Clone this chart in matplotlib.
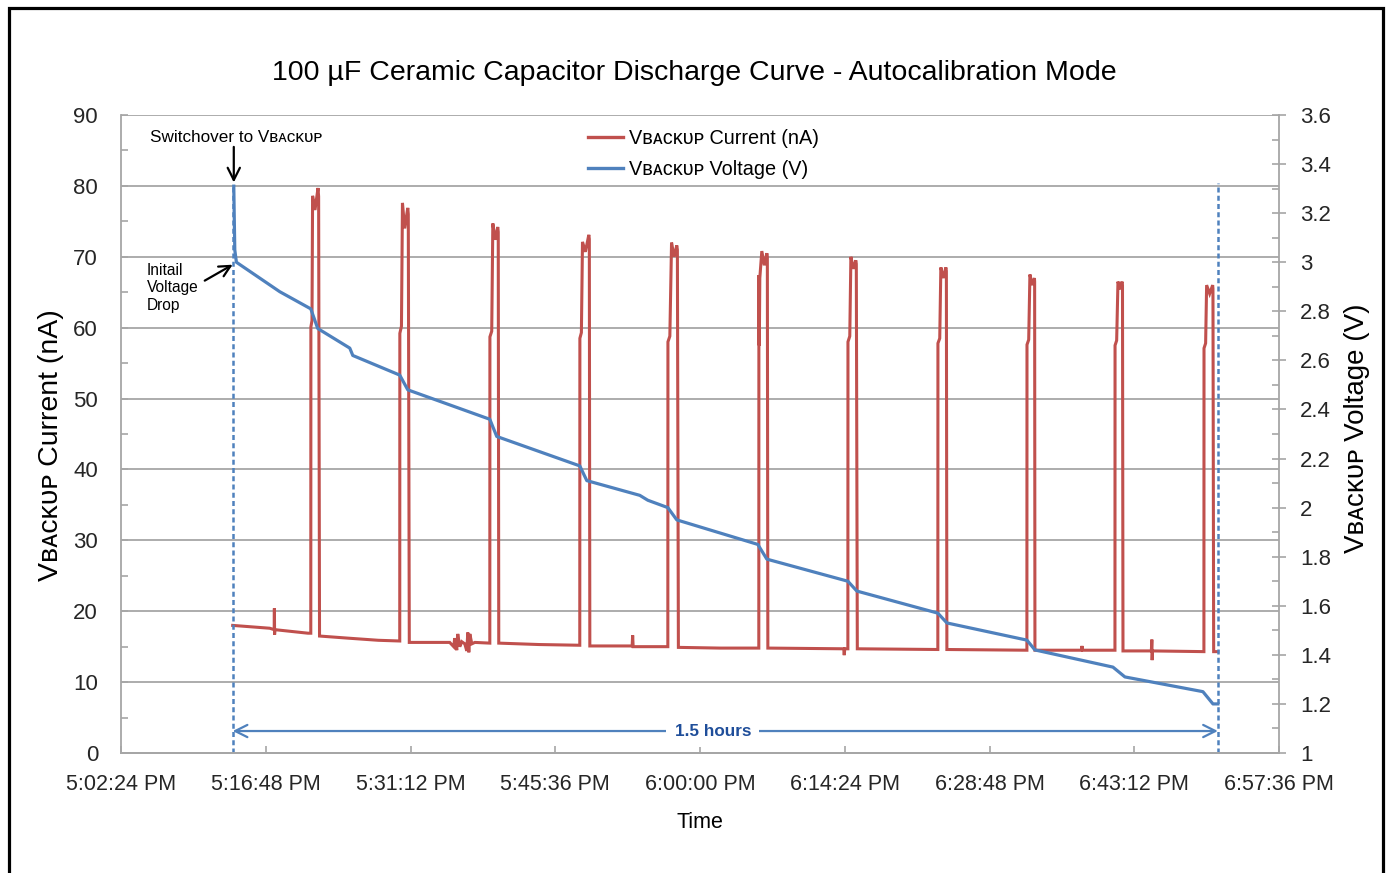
import numpy as np
import pandas as pd
import matplotlib
matplotlib.use('Agg')
import matplotlib.pyplot as plt
from matplotlib.lines import Line2D
from matplotlib.patches import Rectangle
from matplotlib.ticker import MultipleLocator, FormatStrFormatter

plt.rcParams['font.family'] = ['Liberation Sans', 'DejaVu Sans']

#%% data (minutes after 5:00:00 PM)
volt_min = [13.62, 13.66, 13.72, 13.88, 18.19, 21.28, 21.97, 25.16, 25.46, 30.13, 30.93,
            39.09, 39.78, 48.04, 48.74, 54.01, 54.81, 56.80, 57.69, 65.75, 66.65,
            74.71, 75.60, 83.66, 84.56, 92.52, 93.32, 101.08, 102.27, 110.03, 111.03, 111.52]
volt_v = [3.31, 3.20, 3.05, 3.00, 2.88, 2.81, 2.73, 2.65, 2.62, 2.54, 2.48,
          2.36, 2.29, 2.17, 2.11, 2.05, 2.03, 2.00, 1.95, 1.85, 1.79,
          1.70, 1.66, 1.57, 1.53, 1.46, 1.42, 1.35, 1.31, 1.25, 1.20, 1.20]

cur_min = [13.51, 17.20, 17.64, 17.66, 17.68, 17.70, 21.00,
           21.28, 21.29, 21.40, 21.46, 21.70, 22.00, 22.06, 22.15,
           25.00, 28.00, 29.99,
           30.13, 30.14, 30.30, 30.40, 30.62, 30.93, 30.98, 31.08,
           33.00, 35.10, 35.50, 35.60, 35.80, 35.90, 36.10, 36.30, 36.60, 36.80, 36.90, 37.00, 37.10, 37.30, 37.60, 39.00,
           39.09, 39.10, 39.28, 39.39, 39.62, 39.88, 39.93, 39.98,
           44.00, 48.00,
           48.04, 48.05, 48.20, 48.31, 48.60, 48.94, 48.99, 49.04,
           53.25, 53.30, 53.35, 56.70,
           56.80, 56.81, 57.00, 57.17, 57.42, 57.69, 57.75, 57.85,
           62.00, 65.80,
           65.85, 65.86, 65.90, 65.95, 66.15, 66.40, 66.65, 66.70, 66.75,
           74.30, 74.35, 74.40, 74.65,
           74.71, 74.72, 74.90, 75.01, 75.25, 75.50, 75.55, 75.65,
           83.60,
           83.66, 83.67, 83.85, 83.96, 84.20, 84.46, 84.51, 84.56,
           92.45,
           92.52, 92.53, 92.70, 92.82, 93.05, 93.27, 93.29, 93.32,
           97.95, 98.00, 98.05, 101.22,
           101.28, 101.29, 101.45, 101.58, 101.80, 101.98, 102.03, 102.08,
           104.90, 104.95, 104.98, 105.02, 110.08,
           110.13, 110.14, 110.30, 110.40, 110.70, 111.00, 111.03, 111.10,
           111.52]
cur_na = [18.0, 17.6, 17.4, 20.4, 16.7, 17.4, 16.9,
          16.9, 60.1, 61.0, 78.6, 76.6, 79.7, 78.5, 16.5,
          16.2, 15.9, 15.8,
          15.8, 59.2, 60.2, 77.6, 74.0, 76.9, 76.0, 15.6,
          15.6, 15.6, 15.0, 16.2, 14.5, 16.8, 15.0, 15.7, 15.4, 14.4, 17.0, 14.2, 16.8, 15.4, 15.6, 15.5,
          15.5, 58.7, 59.5, 74.7, 72.4, 74.2, 73.5, 15.5,
          15.3, 15.2,
          15.2, 58.5, 59.3, 72.1, 70.7, 73.1, 72.5, 15.1,
          15.1, 16.6, 15.0, 15.0,
          15.0, 58.0, 58.8, 72.0, 70.0, 71.6, 71.0, 14.9,
          14.8, 14.8,
          14.8, 67.4, 57.5, 67.0, 70.8, 68.8, 70.5, 70.0, 14.8,
          14.7, 13.8, 14.7, 14.7,
          14.7, 58.0, 58.8, 70.0, 68.3, 69.5, 69.0, 14.7,
          14.6,
          14.6, 57.8, 58.5, 68.5, 67.0, 68.5, 68.0, 14.6,
          14.5,
          14.5, 57.6, 58.3, 67.5, 66.0, 67.0, 66.5, 14.5,
          14.5, 15.1, 14.5, 14.5,
          14.5, 57.5, 58.2, 66.5, 65.4, 66.5, 66.0, 14.4,
          14.4, 16.0, 13.1, 14.4, 14.3,
          14.3, 57.1, 57.8, 66.0, 64.8, 66.0, 65.5, 14.3,
          14.3]

tick_labels = ['5:02:24 PM', '5:16:48 PM', '5:31:12 PM', '5:45:36 PM', '6:00:00 PM',
               '6:14:24 PM', '6:28:48 PM', '6:43:12 PM', '6:57:36 PM']

switch_min = 13.51   # switchover to VBACKUP
end_min = 111.52     # end of record

#%%
t0 = pd.Timestamp('2000-01-01 17:00:00')
def clock(m):
    return (t0 + pd.to_timedelta(np.atleast_1d(m), unit='min')).values

ticks = pd.to_datetime(['2000-01-01 ' + s for s in tick_labels], format='%Y-%m-%d %I:%M:%S %p').values

red = '#C0504D'
blue = '#4F81BD'
gray = '#A6A6A6'
txt = '#262626'
vb = 'V\u0299\u1d00\u1d04\u1d0b\u1d1c\u1d18'

fig = plt.figure(figsize=(13.89, 8.73), dpi=100)
W, H = 1389, 873
ax = fig.add_axes([121/W, 1-753/H, (1279-121)/W, (753-115)/H])
ax2 = ax.twinx()

ax.plot(clock(cur_min), cur_na, color=red, lw=2.2, solid_joinstyle='miter')
ax2.plot(clock(volt_min), volt_v, color=blue, lw=2.3)
ax.vlines(clock([switch_min, end_min]), 0, [80.1, 80.4], colors=blue, lw=1.8, linestyles=(0, (2, 1.3)))

ax.set_xlim(ticks[0], ticks[-1])
ax.set_ylim(0, 90)
ax2.set_ylim(1, 3.6)
ax.set_xticks(ticks)
ax.set_xticklabels(tick_labels)
ax.yaxis.set_major_locator(MultipleLocator(10))
ax.yaxis.set_minor_locator(MultipleLocator(5))
ax2.yaxis.set_major_locator(MultipleLocator(0.2))
ax2.yaxis.set_minor_locator(MultipleLocator(0.1))
ax2.yaxis.set_major_formatter(FormatStrFormatter('%g'))
ax.grid(axis='y', color=gray, lw=1.3)
ax.set_axisbelow(True)

for a in (ax, ax2):
    for s in a.spines.values():
        s.set_color(gray)
        s.set_linewidth(1.3)
    a.spines['top'].set_visible(False)
ax.spines['right'].set_visible(False)
ax2.spines['left'].set_visible(False)

ax.tick_params(axis='x', direction='in', length=5, width=1.2, color=gray, pad=15, labelsize=15.5, labelcolor=txt)
ax.tick_params(axis='y', which='both', direction='in', length=5, width=1.2, color=gray, pad=16.5, labelsize=16, labelcolor=txt)
ax2.tick_params(axis='y', which='major', direction='inout', length=10, width=1.2, color=gray, pad=10, labelsize=16, labelcolor=txt)
ax2.tick_params(axis='y', which='minor', direction='in', length=5, width=1.2, color=gray)

# texts
fig.text(0.5, 1-73/H, '100 \u00b5F Ceramic Capacitor Discharge Curve - Autocalibration Mode',
         ha='center', va='center', fontsize=20.5, color='black')
fig.text(700/W, 1-828/H, 'Time', ha='center', va='baseline', fontsize=15.5, color='black')
fig.text(51/W, 1-445/H, vb + ' Current (nA)', rotation=90, ha='center', va='center', fontsize=20.5)
fig.text(1357/W, 1-428/H, vb + ' Voltage (V)', rotation=90, ha='center', va='center', fontsize=20)

handles = [Line2D([], [], color=red, lw=2.4), Line2D([], [], color=blue, lw=2.4)]
ax2.legend(handles, [vb + ' Current (nA)', vb + ' Voltage (V)'], loc='upper left',
           bbox_to_anchor=(578/W, 1-119/H), bbox_transform=fig.transFigure, frameon=False,
           fontsize=14.3, handlelength=1.75, handletextpad=0.3, labelspacing=0.62, borderpad=0)

# annotations
ax2.annotate('', xy=(clock(13.62)[0], 3.325), xytext=(clock(13.62)[0], 3.47),
             arrowprops=dict(arrowstyle='->', color='black', lw=1.6, mutation_scale=22, shrinkA=0, shrinkB=0))
fig.text(150/W, 1-142/H, 'Switchover to ' + vb, ha='left', va='baseline', fontsize=12.3)
ax2.annotate('', xy=(clock(switch_min)[0], 2.99), xytext=(clock(10.73)[0], 2.925),
             arrowprops=dict(arrowstyle='->', color='black', lw=1.6, mutation_scale=20, shrinkA=0, shrinkB=0))
fig.text(147/W, 1-263/H, 'Initail\nVoltage\nDrop', ha='left', va='top', fontsize=11.2, linespacing=1.2)

ax.annotate('', xy=(clock(switch_min)[0], 3.1), xytext=(clock(end_min)[0], 3.1),
            arrowprops=dict(arrowstyle='<->', color=blue, lw=1.6, mutation_scale=22, shrinkA=0, shrinkB=0))
ax.text(clock(61.28)[0], 3.1, '1.5 hours', ha='center', va='center', fontsize=12.3, fontweight='bold',
        color='#1F4E9A', bbox=dict(facecolor='white', edgecolor='none', pad=6))

# outer frame (bottom edge runs off the picture)
fig.patches.append(Rectangle((8.5/W, -0.05), (1382.5-8.5)/W, 1.05-8/H, transform=fig.transFigure,
                             fill=False, edgecolor='black', lw=2.3))

fig.savefig('out.png', dpi=100)
